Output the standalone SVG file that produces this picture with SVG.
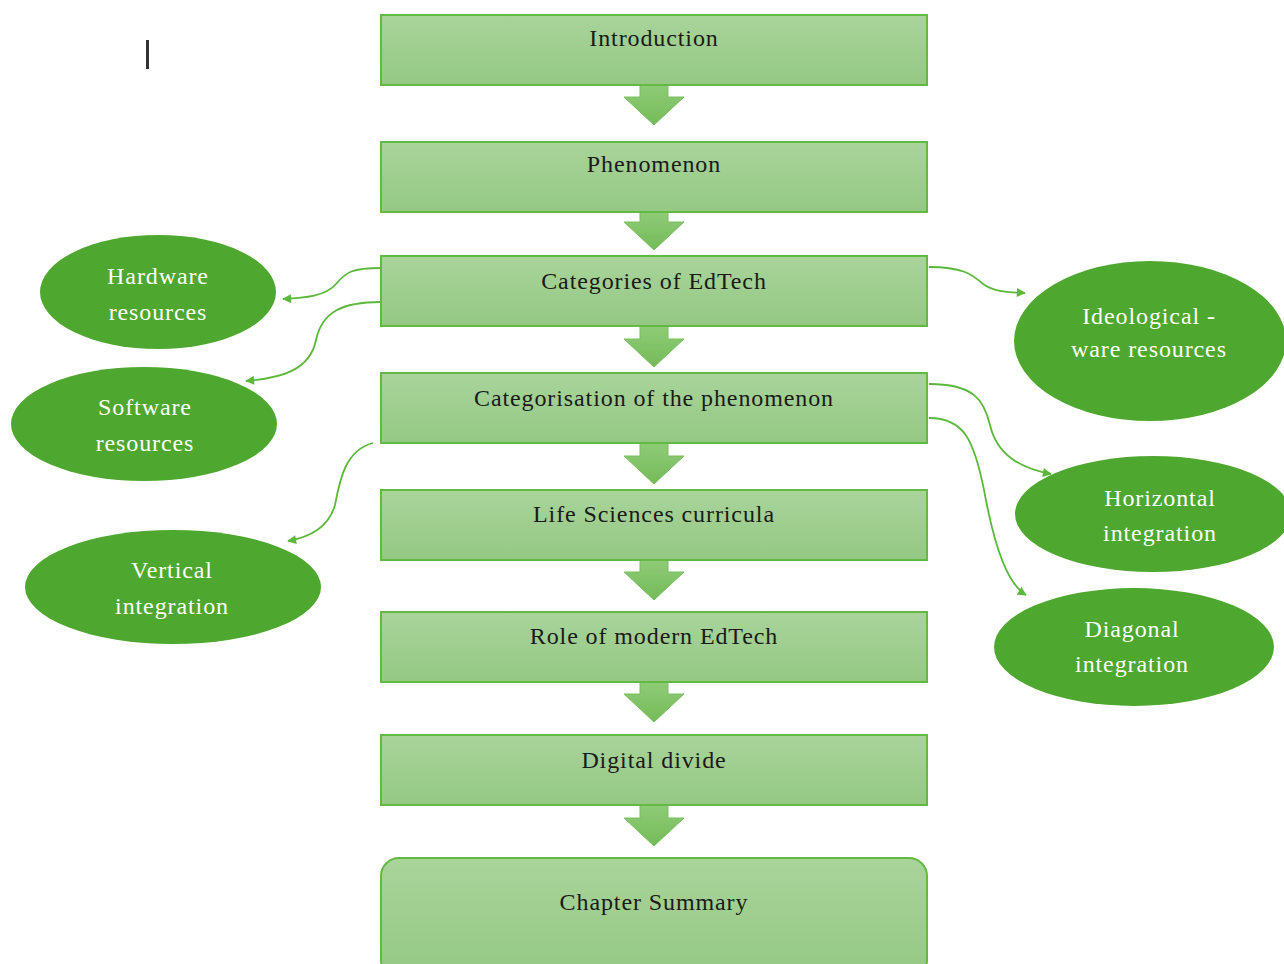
<svg xmlns="http://www.w3.org/2000/svg" width="1284" height="964" viewBox="0 0 1284 964">
<defs>
<linearGradient id="boxg" x1="0" y1="0" x2="0" y2="1">
<stop offset="0" stop-color="#a9d49a"/>
<stop offset="1" stop-color="#94c884"/>
</linearGradient>
<linearGradient id="arrg" x1="0" y1="0" x2="0" y2="1">
<stop offset="0" stop-color="#8fcb78"/>
<stop offset="1" stop-color="#74bb58"/>
</linearGradient>
<marker id="ah" viewBox="0 0 10 10" refX="9" refY="5" markerWidth="10" markerHeight="9" orient="auto-start-reverse" markerUnits="userSpaceOnUse">
<path d="M0,0 L10,5 L0,10 z" fill="#5cb83a"/>
</marker>
</defs>
<style>
.box{fill:url(#boxg);stroke:#62ba42;stroke-width:2}
.blk{fill:url(#arrg);stroke:#78c060;stroke-width:1}
.ell{fill:#4ea72e}
.bt{font-family:"Liberation Serif","DejaVu Serif",serif;font-size:24px;letter-spacing:0.9px;fill:#1a1a1a;text-anchor:middle}
.et{font-family:"Liberation Serif","DejaVu Serif",serif;font-size:24px;letter-spacing:0.9px;fill:#ffffff;text-anchor:middle}
.con{fill:none;stroke:#5cb83a;stroke-width:1.8;marker-end:url(#ah)}
</style>
<rect width="1284" height="964" fill="#ffffff"/>
<rect x="146" y="40" width="3" height="29" fill="#333333"/>

<g id="block-arrows">
<path class="blk" d="M640,85 L668,85 L668,97 L684,97 L654,125 L624,97 L640,97 z"/>
<path class="blk" d="M640,212 L668,212 L668,222 L684,222 L654,250 L624,222 L640,222 z"/>
<path class="blk" d="M640,326 L668,326 L668,339 L684,339 L654,367 L624,339 L640,339 z"/>
<path class="blk" d="M640,443 L668,443 L668,456 L684,456 L654,484 L624,456 L640,456 z"/>
<path class="blk" d="M640,560 L668,560 L668,572 L684,572 L654,600 L624,572 L640,572 z"/>
<path class="blk" d="M640,682 L668,682 L668,694 L684,694 L654,722 L624,694 L640,694 z"/>
<path class="blk" d="M640,805 L668,805 L668,818 L684,818 L654,846 L624,818 L640,818 z"/>
</g>

<g id="n-intro"><rect class="box" x="381" y="15" width="546" height="70"/><text class="bt" x="654" y="46">Introduction</text></g>
<g id="n-phen"><rect class="box" x="381" y="142" width="546" height="70"/><text class="bt" x="654" y="172">Phenomenon</text></g>
<g id="n-cat"><rect class="box" x="381" y="256" width="546" height="70"/><text class="bt" x="654" y="289">Categories of EdTech</text></g>
<g id="n-catphen"><rect class="box" x="381" y="373" width="546" height="70"/><text class="bt" x="654" y="406">Categorisation of the phenomenon</text></g>
<g id="n-life"><rect class="box" x="381" y="490" width="546" height="70"/><text class="bt" x="654" y="522">Life Sciences curricula</text></g>
<g id="n-role"><rect class="box" x="381" y="612" width="546" height="70"/><text class="bt" x="654" y="644">Role of modern EdTech</text></g>
<g id="n-dd"><rect class="box" x="381" y="735" width="546" height="70"/><text class="bt" x="654" y="768">Digital divide</text></g>
<g id="n-sum"><rect class="box" x="381" y="858" width="546" height="120" rx="18" ry="18"/><text class="bt" x="654" y="910">Chapter Summary</text></g>

<g id="n-hw"><ellipse class="ell" cx="158" cy="292" rx="118" ry="57"/><text class="et" x="158" y="284">Hardware</text><text class="et" x="158" y="320">resources</text></g>
<g id="n-sw"><ellipse class="ell" cx="144" cy="424" rx="133" ry="57"/><text class="et" x="145" y="415">Software</text><text class="et" x="145" y="451">resources</text></g>
<g id="n-vert"><ellipse class="ell" cx="173" cy="587" rx="148" ry="57"/><text class="et" x="172" y="578">Vertical</text><text class="et" x="172" y="614">integration</text></g>
<g id="n-ideo"><ellipse class="ell" cx="1150" cy="341" rx="136" ry="80"/><text class="et" x="1149" y="324">Ideological -</text><text class="et" x="1149" y="357">ware resources</text></g>
<g id="n-horiz"><ellipse class="ell" cx="1153" cy="514" rx="138" ry="58"/><text class="et" x="1160" y="506">Horizontal</text><text class="et" x="1160" y="541">integration</text></g>
<g id="n-diag"><ellipse class="ell" cx="1134" cy="647" rx="140" ry="59"/><text class="et" x="1132" y="637">Diagonal</text><text class="et" x="1132" y="672">integration</text></g>

<g id="connectors">
<path class="con" d="M381,268 C352,268 346,272 336,284 C326,296 305,298 283,299"/>
<path class="con" d="M381,302 C342,302 322,312 316,340 C310,370 282,378 246,381"/>
<path class="con" d="M373,443 C346,450 340,478 335,505 C328,530 305,538 288,541"/>
<path class="con" d="M929,267 C962,267 972,274 983,284 C994,292 1008,292 1025,293"/>
<path class="con" d="M929,384 C974,384 984,400 990,425 C997,455 1020,468 1051,474"/>
<path class="con" d="M929,418 C964,418 974,440 984,490 C995,550 1008,584 1026,595"/>
</g>
</svg>
